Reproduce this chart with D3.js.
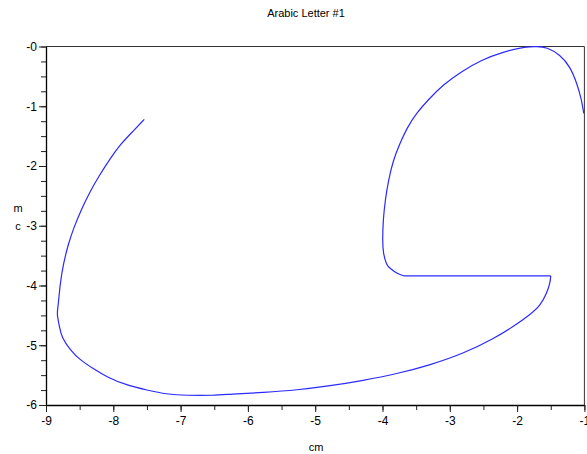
<!DOCTYPE html>
<html>
<head>
<meta charset="utf-8">
<script src="https://cdn.jsdelivr.net/npm/d3@7"></script>
<style>
  html, body { margin: 0; padding: 0; background: #fff; }
  svg { display: block; font-family: "Liberation Sans", Arial, sans-serif; }
</style>
</head>
<body>
<svg id="chart" width="587" height="454"></svg>
<script>
const title = "Arabic Letter #1";
const xLabel = "cm";
const yLabel = "cm";
const xDomain = [-9, -1];
const yDomain = [-6, 0];
const xMajorTicks = [-9, -8, -7, -6, -5, -4, -3, -2, -1];
const yMajorTicks = [0, -1, -2, -3, -4, -5, -6];
const yTickLabels = ["-0", "-1", "-2", "-3", "-4", "-5", "-6"];
const xMinorStep = 0.5;
const yMinorStep = 0.25;

const curveX = [
  -7.54, -7.70, -7.89, -8.05, -8.22, -8.36, -8.48, -8.59, -8.67, -8.74, -8.79, -8.82, -8.84,
  -8.80, -8.77, -8.64, -8.49, -8.30, -8.10, -7.80, -7.50, -7.21, -6.91, -6.51, -6.27, -5.77,
  -5.27, -4.78, -4.29, -3.79, -3.29, -2.80, -2.35, -2.06, -1.81, -1.65, -1.56, -1.51, -1.50,
  -3.68, -3.79, -3.89, -3.94, -3.99, -4.00, -3.99, -3.96, -3.91, -3.84, -3.74, -3.64, -3.50,
  -3.32, -3.10, -2.83, -2.54, -2.21, -1.86, -1.71, -1.56, -1.36, -1.21, -1.11, -1.04, -1.01
];
const curveY = [
  -1.22, -1.41, -1.63, -1.88, -2.18, -2.46, -2.74, -3.04, -3.31, -3.63, -3.96, -4.36, -4.47,
  -4.69, -4.86, -5.08, -5.25, -5.39, -5.53, -5.67, -5.75, -5.82, -5.84, -5.84, -5.82, -5.79,
  -5.75, -5.68, -5.59, -5.48, -5.33, -5.14, -4.89, -4.69, -4.49, -4.33, -4.13, -3.96, -3.84,
  -3.84, -3.80, -3.71, -3.66, -3.46, -3.24, -2.90, -2.57, -2.23, -1.90, -1.62, -1.37, -1.12,
  -0.89, -0.64, -0.42, -0.23, -0.09, 0.00, 0.00, -0.01, -0.14, -0.34, -0.62, -0.90, -1.12
];

const svg = d3.select("#chart");
const mLeft = 46, mRight = 584.4, mTop = 46.5, mBottom = 405;

const x = d3.scaleLinear().domain(xDomain).range([mLeft, mRight]);
const y = d3.scaleLinear().domain(yDomain).range([mBottom, mTop]);

const fmtX = d => d3.format("d")(d).replace("−", "-");

// box top & right
svg.append("line").attr("x1", mLeft).attr("x2", mRight).attr("y1", mTop).attr("y2", mTop)
  .attr("stroke", "#333").attr("stroke-width", 1);
svg.append("line").attr("x1", mRight).attr("x2", mRight).attr("y1", mTop).attr("y2", mBottom)
  .attr("stroke", "#333").attr("stroke-width", 1);

// minor ticks
const xMinor = d3.range(xDomain[0], xDomain[1] + 1e-9, xMinorStep);
const yMinor = d3.range(yDomain[0], yDomain[1] + 1e-9, yMinorStep);

const gx = svg.append("g").attr("transform", `translate(0,${mBottom})`);
gx.call(d3.axisBottom(x).tickValues(xMinor).tickSize(5).tickFormat(""))
  .call(g => g.select(".domain").remove())
  .call(g => g.selectAll("line").attr("stroke", "#222"));
gx.append("g").call(d3.axisBottom(x).tickValues(xMajorTicks).tickSize(7).tickSizeOuter(0)
    .tickFormat(fmtX).tickPadding(4))
  .call(g => g.select(".domain").attr("stroke", "#000").attr("stroke-width", 1.3))
  .call(g => g.selectAll("line").attr("stroke", "#222"))
  .call(g => g.selectAll("text").attr("font-size", 12).attr("fill", "#000")
      .attr("font-family", "Liberation Sans, Arial, sans-serif"));

const gy = svg.append("g").attr("transform", `translate(${mLeft},0)`);
gy.call(d3.axisLeft(y).tickValues(yMinor).tickSize(5).tickFormat(""))
  .call(g => g.select(".domain").remove())
  .call(g => g.selectAll("line").attr("stroke", "#222"));
gy.append("g").call(d3.axisLeft(y).tickValues(yMajorTicks).tickSize(7).tickSizeOuter(0)
    .tickFormat((d, i) => yTickLabels[i]).tickPadding(2))
  .call(g => g.select(".domain").attr("stroke", "#000").attr("stroke-width", 1.3))
  .call(g => g.selectAll("line").attr("stroke", "#222"))
  .call(g => g.selectAll("text").attr("font-size", 12).attr("fill", "#000")
      .attr("font-family", "Liberation Sans, Arial, sans-serif"));

// curve: split into smooth pieces at the straight horizontal stroke
const pts = curveX.map((v, i) => [v, curveY[i]]);
const breakIdx = pts.findIndex((p, i) => i > 0 && Math.abs(p[0] - pts[i - 1][0]) > 1);
const pieces = [
  { data: pts.slice(0, breakIdx), smooth: true },
  { data: pts.slice(breakIdx - 1, breakIdx + 1), smooth: false },
  { data: pts.slice(breakIdx), smooth: true }
];
const lineSmooth = d3.line().x(d => x(d[0])).y(d => y(d[1])).curve(d3.curveBasis);
const lineStraight = d3.line().x(d => x(d[0])).y(d => y(d[1]));
svg.selectAll("path.stroke").data(pieces).enter().append("path")
  .attr("class", "stroke")
  .attr("fill", "none")
  .attr("stroke", "#2a2aff")
  .attr("stroke-width", 1.2)
  .attr("stroke-linejoin", "round")
  .attr("d", d => (d.smooth ? lineSmooth : lineStraight)(d.data));

// title
svg.append("text").attr("x", 306).attr("y", 17).attr("text-anchor", "middle")
  .attr("font-size", 11).attr("fill", "#000").text(title);

// x label
svg.append("text").attr("x", 316).attr("y", 451).attr("text-anchor", "middle")
  .attr("font-size", 11).attr("fill", "#000").text(xLabel);

// y label stacked vertically (bottom to top letters)
const yl = yLabel.split("");
yl.forEach((ch, i) => {
  svg.append("text")
    .attr("x", 18)
    .attr("y", 230 - i * 18)
    .attr("text-anchor", "middle")
    .attr("font-size", 11).attr("fill", "#000").text(ch);
});
</script>
</body>
</html>
